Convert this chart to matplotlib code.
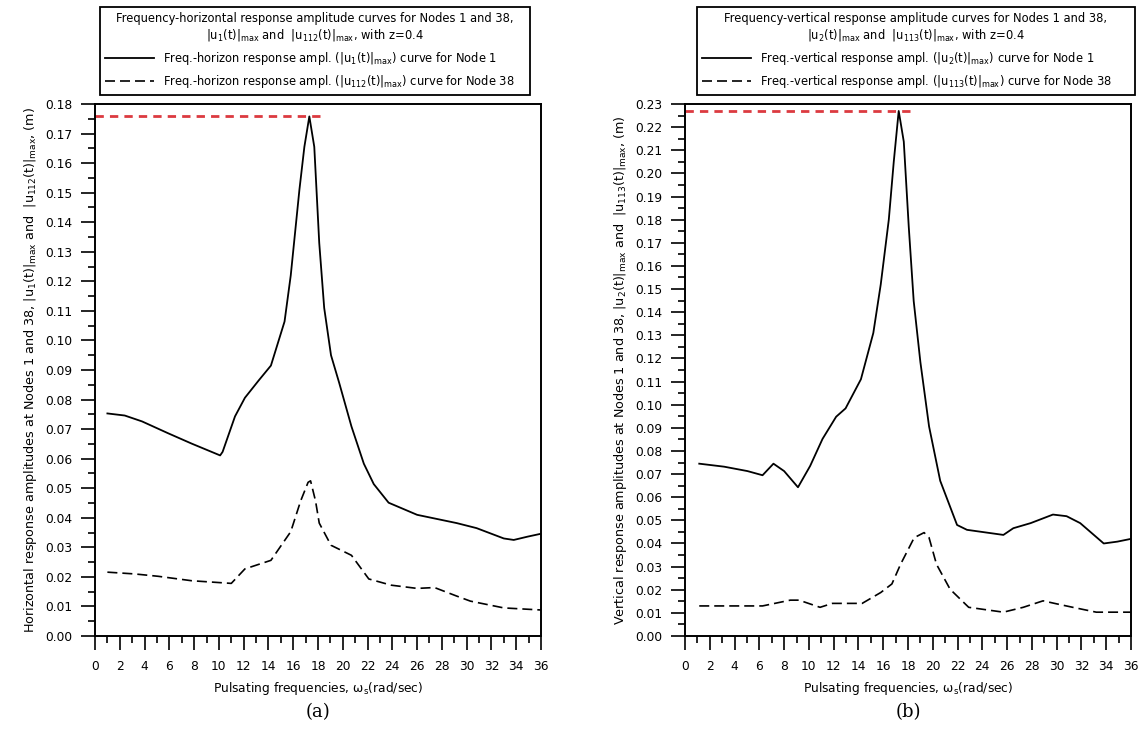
import matplotlib
matplotlib.use('Agg')
import matplotlib.pyplot as plt
from matplotlib.ticker import MultipleLocator
from matplotlib.lines import Line2D

plt.rcParams['font.family'] = 'DejaVu Sans'
plt.rcParams['mathtext.default'] = 'regular'

# Data - panel (a), horizontal response
xa_node1 = [1, 2.4, 3.8, 5.9, 7.8, 10.1, 10.3, 11.3, 12.1, 13.2, 14.2, 15.3, 15.8, 16.5,
            16.9, 17.3, 17.7, 18.1, 18.5, 19.05, 19.7, 20.7, 21.7, 22.5, 23.7, 26.0,
            29.2, 30.8, 33.0, 33.8, 34.9, 36]
ya_node1 = [0.0753, 0.0746, 0.0726, 0.0686, 0.0651, 0.0611, 0.0623, 0.0743, 0.0806,
            0.0864, 0.0915, 0.1064, 0.122, 0.151, 0.1655, 0.1758, 0.1655, 0.133, 0.111,
            0.095, 0.0858, 0.0709, 0.0583, 0.0514, 0.0451, 0.041, 0.0382, 0.0365, 0.033,
            0.0325, 0.0336, 0.0346]
xa_node38 = [1, 3.2, 5.1, 7.8, 11.0, 12.1, 14.2, 15.8, 16.6, 17.2, 17.4, 17.8, 18.1, 19.05,
             20.7, 22.1, 23.9, 26.0, 27.4, 29.2, 30.3, 33.0, 36]
ya_node38 = [0.0216, 0.021, 0.0202, 0.0187, 0.0178, 0.0227, 0.0256, 0.0353, 0.0457, 0.052,
             0.0525, 0.0457, 0.0382, 0.0307, 0.0273, 0.0193, 0.0172, 0.0161, 0.0164,
             0.0135, 0.0118, 0.0095, 0.0088]

# Data - panel (b), vertical response
xb_node1 = [1.15, 3.16, 5.04, 6.26, 7.14, 8.0, 9.12, 10.1, 11.1, 12.2, 12.96, 14.2, 15.2,
            15.8, 16.45, 16.85, 17.25, 17.66, 18.06, 18.46, 19.0, 19.7, 20.6, 21.96, 22.76,
            25.7, 26.5, 27.9, 29.7, 30.8, 31.9, 33.8, 34.9, 36]
yb_node1 = [0.0745, 0.0732, 0.0713, 0.0695, 0.0745, 0.0713, 0.0643, 0.0735, 0.0852, 0.0948,
            0.0984, 0.111, 0.131, 0.152, 0.180, 0.205, 0.227, 0.2137, 0.177, 0.1448,
            0.1184, 0.0906, 0.0671, 0.048, 0.0459, 0.0437, 0.0466, 0.0488, 0.0525, 0.0518,
            0.0488, 0.040, 0.0408, 0.042]
xb_node38 = [1.15, 6.26, 8.5, 9.2, 10.9, 11.9, 14.3, 15.8, 16.7, 17.4, 18.5, 19.3, 19.7,
             20.3, 21.4, 22.9, 25.7, 27.3, 28.9, 30.0, 31.3, 33.2, 36]
yb_node38 = [0.0130, 0.0130, 0.0155, 0.0155, 0.0124, 0.0141, 0.0141, 0.0188, 0.0225, 0.031,
             0.0425, 0.0447, 0.0425, 0.031, 0.0202, 0.0124, 0.0103, 0.0124, 0.0152, 0.0139,
             0.0124, 0.0103, 0.0103]

W, H = 1139, 733
fig = plt.figure(figsize=(W / 100, H / 100), dpi=100)


def px_axes(l, r, t, b):
    return fig.add_axes([l / W, 1 - b / H, (r - l) / W, (b - t) / H])


panels = [
    dict(box=(95, 541, 104, 636), leg=(100, 530), x1=xa_node1, y1=ya_node1,
         x2=xa_node38, y2=ya_node38, ymax=0.18,
         title='Frequency-horizontal response amplitude curves for Nodes 1 and 38,\n'
               '$|u_1(t)|_{max}$ and  $|u_{112}(t)|_{max}$, with z=0.4',
         lab1='Freq.-horizon response ampl. ($|u_1(t)|_{max}$) curve for Node 1',
         lab2='Freq.-horizon response ampl. ($|u_{112}(t)|_{max}$) curve for Node 38',
         ylabel='Horizontal response amplitudes at Nodes 1 and 38, '
                '$|u_1(t)|_{max}$ and  $|u_{112}(t)|_{max}$, (m)',
         tag='(a)'),
    dict(box=(685, 1131, 104, 636), leg=(697, 1135), x1=xb_node1, y1=yb_node1,
         x2=xb_node38, y2=yb_node38, ymax=0.23,
         title='Frequency-vertical response amplitude curves for Nodes 1 and 38,\n'
               '$|u_2(t)|_{max}$ and  $|u_{113}(t)|_{max}$, with z=0.4',
         lab1='Freq.-vertical response ampl. ($|u_2(t)|_{max}$) curve for Node 1',
         lab2='Freq.-vertical response ampl. ($|u_{113}(t)|_{max}$) curve for Node 38',
         ylabel='Vertical response amplitudes at Nodes 1 and 38, '
                '$|u_2(t)|_{max}$ and  $|u_{113}(t)|_{max}$, (m)',
         tag='(b)'),
]

for p in panels:
    ax = px_axes(*p['box'])
    ax.plot(p['x1'], p['y1'], color='black', lw=1.3)
    ax.plot(p['x2'], p['y2'], color='black', lw=1.2, dashes=(6, 3))

    # peak marker line
    peak = max(p['y1'])
    xpeak = p['x1'][p['y1'].index(peak)]
    ax.plot([0, xpeak + 1.1], [peak, peak], color='#dc3a40', lw=2, dashes=(3, 2.2),
            clip_on=False)

    ax.set_xlim(0, 36)
    ax.set_ylim(0, p['ymax'])
    ax.xaxis.set_major_locator(MultipleLocator(2))
    ax.xaxis.set_minor_locator(MultipleLocator(1))
    ax.yaxis.set_major_locator(MultipleLocator(0.01))
    ax.yaxis.set_minor_locator(MultipleLocator(0.005))
    ax.yaxis.set_major_formatter(matplotlib.ticker.FormatStrFormatter('%.2f'))
    ax.tick_params(which='major', direction='out', length=10, width=1.2,
                   labelsize=8.8, pad=6, colors='black')
    ax.tick_params(which='minor', direction='out', length=5, width=1.2)
    ax.tick_params(axis='x', which='major', pad=7)
    for s in ax.spines.values():
        s.set_linewidth(1.4)

    ax.set_xlabel('Pulsating frequencies, $\\omega_s$(rad/sec)', fontsize=8.8, labelpad=5)
    ax.set_ylabel(p['ylabel'], fontsize=9.2, labelpad=5)

    handles = [Line2D([], [], color='black', lw=1.3),
               Line2D([], [], color='black', lw=1.2, dashes=(6, 3))]
    l0, l1 = p['leg']
    leg = ax.legend(handles, [p['lab1'], p['lab2']], title=p['title'],
                    loc='upper left', bbox_to_anchor=(l0 / W, 1 - 7 / H, (l1 - l0) / W, 0),
                    bbox_transform=fig.transFigure, mode='expand',
                    fontsize=8.3, title_fontsize=8.3, frameon=True, fancybox=False,
                    edgecolor='black', framealpha=1, handlelength=4.2,
                    handletextpad=0.8, borderpad=0.45, labelspacing=0.55,
                    borderaxespad=0)
    leg.get_frame().set_linewidth(1.3)
    leg.get_title().set_multialignment('center')

    cx = (p['box'][0] + p['box'][1]) / 2
    fig.text(cx / W, 1 - 712 / H, p['tag'], ha='center', va='center',
             fontsize=13, family='DejaVu Serif')

fig.savefig('out.png', dpi=100)
